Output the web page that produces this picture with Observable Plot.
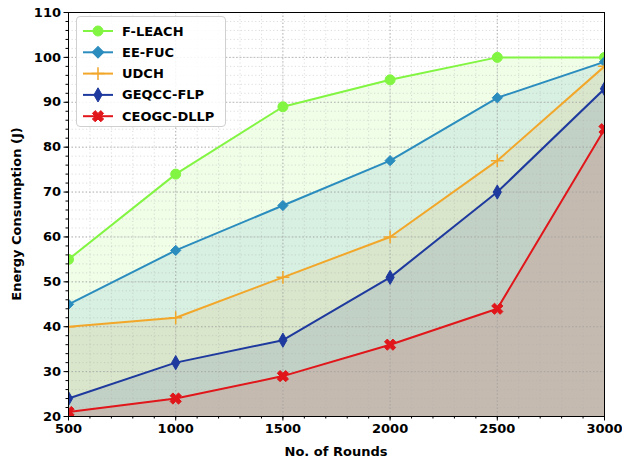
<!DOCTYPE html>
<html>
<head>
<meta charset="utf-8">
<script src="https://cdn.jsdelivr.net/npm/d3@7"></script>
<script src="https://cdn.jsdelivr.net/npm/@observablehq/plot@0.6"></script>
<style>
  body { margin: 0; background: #fff; font-family: "DejaVu Sans", sans-serif; }
  #wrap { position: relative; width: 622px; height: 461px; }
  #legend { position: absolute; left: 76px; top: 16px; width: 150px; height: 111px;
    background: rgba(255,255,255,0.85); border: 1px solid #d0d0d0; border-radius: 4px; box-sizing: border-box; }
  #legend svg { display: block; }
</style>
</head>
<body>
<div id="wrap"></div>
<script>
const rounds = [500, 1000, 1500, 2000, 2500, 3000];
const seriesNames = ["F-LEACH", "EE-FUC", "UDCH", "GEQCC-FLP", "CEOGC-DLLP"];
const fLeach = [55, 74, 89, 95, 100, 100];
const eeFuc = [45, 57, 67, 77, 91, 99];
const udch = [40, 42, 51, 60, 77, 98];
const geqcc = [24, 32, 37, 51, 70, 93];
const ceogc = [21, 24, 29, 36, 44, 84];
const xTicks = [500, 1000, 1500, 2000, 2500, 3000];
const yTicks = [20, 30, 40, 50, 60, 70, 80, 90, 100, 110];

const colors = ["#82f542", "#2b8cbe", "#f2a72a", "#1f3a9e", "#e0161a"];
const seriesValues = [fLeach, eeFuc, udch, geqcc, ceogc];

const symX = {
  draw(ctx, size) {
    const r = Math.sqrt(size / 5) / 2;
    const pts = [[-3,-1],[-1,-1],[-1,-3],[1,-3],[1,-1],[3,-1],[3,1],[1,1],[1,3],[-1,3],[-1,1],[-3,1]];
    pts.forEach(([a, b], i) => {
      const x = (a - b) / Math.SQRT2 * r, y = (a + b) / Math.SQRT2 * r;
      if (i === 0) ctx.moveTo(x, y); else ctx.lineTo(x, y);
    });
    ctx.closePath();
  }
};
const symbols = ["circle", "diamond2", "plus", "diamond", symX];
const radii = [5, 4.6, 4.2, 4.3, 5];

const table = [];
seriesNames.forEach((name, i) => {
  rounds.forEach((r, j) => table.push({series: name, idx: i, x: r, y: seriesValues[i][j]}));
});

const minorX = d3.range(500, 3001, 100);
const minorY = d3.range(20, 111, 2);

const marks = [];
seriesNames.forEach((name, i) => {
  marks.push(Plot.areaY(table.filter(d => d.idx === i), {x: "x", y1: 20, y2: "y", fill: colors[i], fillOpacity: 0.12, clip: true}));
});
marks.push(Plot.ruleX(minorX, {stroke: "#b0b0b0", strokeOpacity: 0.55, strokeDasharray: "1.2,2.4", strokeWidth: 0.8}));
marks.push(Plot.ruleY(minorY, {stroke: "#b0b0b0", strokeOpacity: 0.55, strokeDasharray: "1.2,2.4", strokeWidth: 0.8}));
marks.push(Plot.ruleX(xTicks, {stroke: "#a0a0a0", strokeOpacity: 0.7, strokeDasharray: "1.5,2", strokeWidth: 1}));
marks.push(Plot.ruleY(yTicks, {stroke: "#a0a0a0", strokeOpacity: 0.7, strokeDasharray: "1.5,2", strokeWidth: 1}));
seriesNames.forEach((name, i) => {
  const d = table.filter(t => t.idx === i);
  marks.push(Plot.line(d, {x: "x", y: "y", stroke: colors[i], strokeWidth: 2, clip: true}));
  const isLine = symbols[i] === "plus";
  marks.push(Plot.dot(d, {x: "x", y: "y", symbol: () => symbols[i], r: radii[i],
    fill: isLine ? "none" : colors[i], stroke: colors[i], strokeWidth: isLine ? 1.5 : 1, clip: true}));
});
marks.push(Plot.frame({stroke: "#000", strokeWidth: 1}));
marks.push(Plot.axisX(minorX, {tickSize: 2.5, text: null, stroke: "#000", label: null}));
marks.push(Plot.axisY(minorY, {tickSize: 2.5, text: null, stroke: "#000", label: null}));
marks.push(Plot.axisX(xTicks, {tickSize: 4.5, tickPadding: 3, fontSize: 13, fontWeight: "bold", fill: "#000", stroke: "#000", label: null, tickFormat: "d"}));
marks.push(Plot.axisY(yTicks, {tickSize: 4.5, tickPadding: 3, fontSize: 13, fontWeight: "bold", fill: "#000", stroke: "#000", label: null, tickFormat: "d"}));

const chart = Plot.plot({
  width: 622, height: 461,
  marginLeft: 68, marginRight: 18, marginTop: 12, marginBottom: 45,
  style: {fontFamily: "DejaVu Sans, sans-serif", background: "#fff", color: "#000", overflow: "visible"},
  x: {domain: [500, 3000], label: null},
  y: {domain: [20, 110], label: null},
  marks
});

const wrap = document.getElementById("wrap");
wrap.appendChild(chart);

const svg = d3.select(chart);
svg.append("text").attr("x", 336).attr("y", 456).attr("text-anchor", "middle")
  .attr("font-size", 13).attr("font-weight", "bold").attr("font-family", "DejaVu Sans, sans-serif").text("No. of Rounds");
svg.append("text").attr("transform", "translate(21,214) rotate(-90)").attr("text-anchor", "middle")
  .attr("font-size", 13).attr("font-weight", "bold").attr("font-family", "DejaVu Sans, sans-serif").text("Energy Consumption (J)");

const leg = document.createElement("div");
leg.id = "legend";
wrap.appendChild(leg);
const ls = d3.select(leg).append("svg").attr("width", 150).attr("height", 110);
seriesNames.forEach((name, i) => {
  const y = 14 + i * 21.3;
  const g = ls.append("g");
  g.append("line").attr("x1", 6).attr("x2", 36).attr("y1", y).attr("y2", y).attr("stroke", colors[i]).attr("stroke-width", 2);
  const sym = typeof symbols[i] === "string" ? {circle: d3.symbolCircle, diamond2: d3.symbolSquare, plus: d3.symbolPlus, diamond: d3.symbolDiamond}[symbols[i]] : symX;
  const size = Math.PI * radii[i] * radii[i];
  const path = d3.symbol(sym, size)();
  const isLine = symbols[i] === "plus";
  g.append("path").attr("d", path)
    .attr("transform", `translate(21,${y})` + (symbols[i] === "diamond2" ? " rotate(45)" : ""))
    .attr("fill", isLine ? "none" : colors[i]).attr("stroke", colors[i]).attr("stroke-width", isLine ? 1.5 : 1);
  g.append("text").attr("x", 45).attr("y", y + 4.5).attr("font-size", 13).attr("font-weight", "bold")
    .attr("font-family", "DejaVu Sans, sans-serif").attr("fill", "#000").text(name);
});
</script>
</body>
</html>
